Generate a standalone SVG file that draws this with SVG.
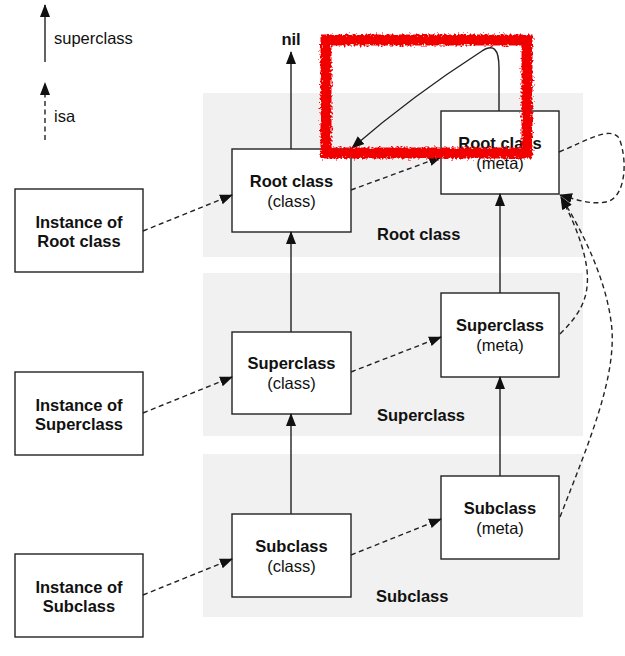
<svg xmlns="http://www.w3.org/2000/svg" width="625" height="656" viewBox="0 0 625 656">
<defs>
<style>
.band{fill:#f1f1f1}
.box{fill:#fff;stroke:#222;stroke-width:1.4}
.t{font-family:"Liberation Sans",Arial,sans-serif;font-size:16.5px;fill:#111;text-anchor:middle}
.b{font-weight:bold}
.sup{fill:none;stroke:#222;stroke-width:1.4;marker-end:url(#ah)}
.isa{fill:none;stroke:#222;stroke-width:1.4;stroke-dasharray:5 3.5;marker-end:url(#ah)}
</style>
<marker id="ah" markerUnits="userSpaceOnUse" markerWidth="14" markerHeight="12" refX="12" refY="5" orient="auto" viewBox="0 0 14 10">
<path d="M0,0 L13,5 L0,10 z" fill="#111"/>
</marker>
<filter id="rough" x="-10%" y="-10%" width="120%" height="120%">
<feTurbulence type="fractalNoise" baseFrequency="0.5" numOctaves="3" seed="3"/>
<feDisplacementMap in="SourceGraphic" scale="7" xChannelSelector="R" yChannelSelector="G"/>
</filter>
</defs>
<rect width="625" height="656" fill="#fff"/>
<g id="bands">
<rect class="band" x="203" y="93" width="380" height="164"/>
<rect class="band" x="203" y="273" width="380" height="163"/>
<rect class="band" x="203" y="454" width="380" height="163"/>
<text class="t b" x="377" y="240" style="text-anchor:start">Root class</text>
<text class="t b" x="377" y="421" style="text-anchor:start">Superclass</text>
<text class="t b" x="376" y="602" style="text-anchor:start">Subclass</text>
</g>
<g id="legend">
<line class="sup" x1="45" y1="62" x2="45" y2="5"/>
<text class="t" x="54" y="44" style="text-anchor:start">superclass</text>
<line class="isa" x1="45" y1="140" x2="45" y2="83"/>
<text class="t" x="54" y="122" style="text-anchor:start">isa</text>
</g>
<g id="nil"><text class="t b" x="291" y="45">nil</text></g>
<g id="inst-root">
<rect class="box" x="15" y="189" width="128" height="83"/>
<text class="t b" x="79" y="228">Instance of</text>
<text class="t b" x="79" y="247">Root class</text>
</g>
<g id="inst-super">
<rect class="box" x="15" y="372" width="128" height="83"/>
<text class="t b" x="79" y="411">Instance of</text>
<text class="t b" x="79" y="430">Superclass</text>
</g>
<g id="inst-sub">
<rect class="box" x="15" y="554" width="128" height="83"/>
<text class="t b" x="79" y="593">Instance of</text>
<text class="t b" x="79" y="612">Subclass</text>
</g>
<g id="root-class">
<rect class="box" x="232" y="149" width="119" height="83"/>
<text class="t b" x="291.5" y="187">Root class</text>
<text class="t" x="291.5" y="207">(class)</text>
</g>
<g id="root-meta">
<rect class="box" x="441" y="111" width="118" height="83"/>
<text class="t b" x="500" y="149">Root class</text>
<text class="t" x="500" y="169">(meta)</text>
</g>
<g id="super-class">
<rect class="box" x="232" y="332" width="119" height="82"/>
<text class="t b" x="291.5" y="369">Superclass</text>
<text class="t" x="291.5" y="389">(class)</text>
</g>
<g id="super-meta">
<rect class="box" x="441" y="293" width="118" height="84"/>
<text class="t b" x="500" y="331">Superclass</text>
<text class="t" x="500" y="351">(meta)</text>
</g>
<g id="sub-class">
<rect class="box" x="232" y="514" width="119" height="83"/>
<text class="t b" x="291.5" y="552">Subclass</text>
<text class="t" x="291.5" y="572">(class)</text>
</g>
<g id="sub-meta">
<rect class="box" x="441" y="476" width="118" height="83"/>
<text class="t b" x="500" y="514">Subclass</text>
<text class="t" x="500" y="534">(meta)</text>
</g>
<g id="connectors">
<line class="sup" x1="291" y1="149" x2="291" y2="52"/>
<line class="sup" x1="291" y1="332" x2="291" y2="232"/>
<line class="sup" x1="291" y1="514" x2="291" y2="414"/>
<path class="sup" d="M499,111 L499,68 C499,48 493,44 482,51 C440,78 390,115 352,148"/>
<line class="sup" x1="500" y1="293" x2="500" y2="194"/>
<line class="sup" x1="500" y1="476" x2="500" y2="377"/>
<path class="isa" d="M143,231 L232,195"/>
<path class="isa" d="M143,413 L232,377"/>
<path class="isa" d="M143,595 L232,559"/>
<path class="isa" d="M351,190 L441,157"/>
<path class="isa" d="M351,372 L441,337"/>
<path class="isa" d="M351,555 L441,519"/>
<path class="isa" d="M559,152 C588,140 610,126 619,138 C628,160 626,198 606,202 C590,205 575,199 560,195"/>
<path class="isa" d="M560,334 C578,316 590,300 587,270 C584,245 572,218 561,197"/>
<path class="isa" d="M560,517 C590,440 615,380 612,330 C608,282 582,230 561,197"/>
</g>
<g id="annotation">
<rect x="326" y="40" width="201" height="113" fill="none" stroke="#f20000" stroke-width="11" filter="url(#rough)"/>
</g>
</svg>
